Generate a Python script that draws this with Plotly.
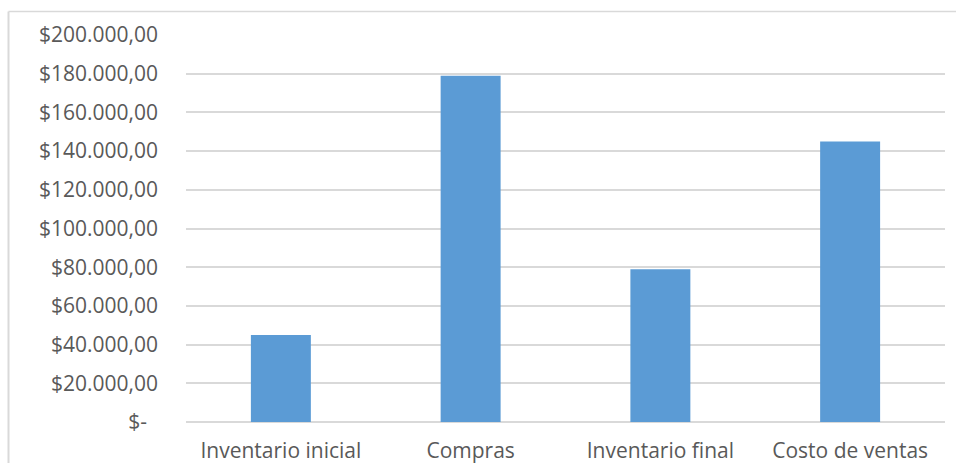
import plotly.graph_objects as go

# Inventory cost summary
categories = ["Inventario inicial", "Compras", "Inventario final", "Costo de ventas"]
values = [45000, 179000, 79000, 145000]

tick_values = [0, 20000, 40000, 60000, 80000, 100000, 120000, 140000, 160000, 180000, 200000]
tick_labels = ["$-\u00a0\u00a0", "$20.000,00", "$40.000,00", "$60.000,00", "$80.000,00",
               "$100.000,00", "$120.000,00", "$140.000,00", "$160.000,00",
               "$180.000,00", "$200.000,00"]

W, H = 956, 463
L, R, T, B = 186, 11, 34.5, 41
pw, ph = W - L - R, H - T - B

font = dict(family="Open Sans", size=21, color="#595959")
grid = "#d9d9d9"

fig = go.Figure(go.Bar(
    x=categories, y=values,
    marker=dict(color="#5b9bd5", line=dict(width=0)),
    hoverinfo="x+y",
))

# chart frame: left and top edges
bx = (8.5 - L) / pw
by = 1 + (T - 11) / ph
fig.add_shape(type="line", xref="paper", yref="paper", x0=bx, x1=bx, y0=by, y1=-B / ph - 0.01,
              line=dict(color=grid, width=2))
fig.add_shape(type="line", xref="paper", yref="paper", x0=bx, x1=1 + R / pw + 0.01, y0=by, y1=by,
              line=dict(color=grid, width=1.5))

fig.update_layout(
    width=W, height=H,
    margin=dict(l=L, r=R, t=T, b=B, pad=0, autoexpand=False),
    paper_bgcolor="white", plot_bgcolor="white",
    bargap=0.684,
    showlegend=False,
    font=font,
    xaxis=dict(showgrid=False, zeroline=False, showline=False, ticks="",
               tickfont=font, ticklabelstandoff=14, automargin=False),
    yaxis=dict(range=[0, 200000], tickvals=tick_values, ticktext=tick_labels,
               showgrid=True, gridcolor=grid, gridwidth=1.5,
               zeroline=True, zerolinecolor=grid, zerolinewidth=1.5,
               showline=False, ticks="", tickfont=font, ticklabelstandoff=27,
               automargin=False),
)

fig.write_html("out.html")
